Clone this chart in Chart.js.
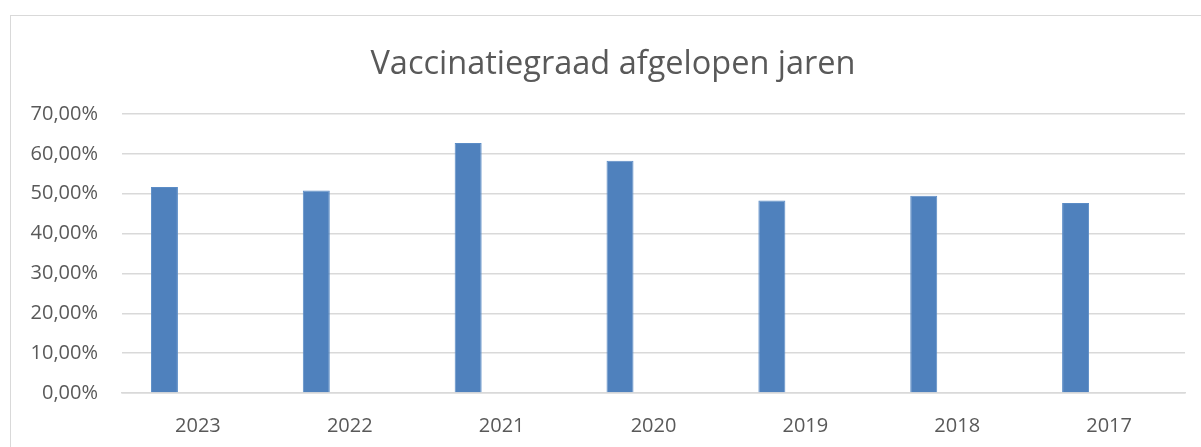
<!DOCTYPE html>
<html>
<head>
<meta charset="utf-8">
<script src="https://cdn.jsdelivr.net/npm/chart.js@4/dist/chart.umd.min.js"></script>
<style>
  html, body { margin: 0; padding: 0; background: #fff; }
  #wrap { position: relative; width: 1201px; height: 447px; overflow: hidden; }
  #frame { position: absolute; left: 10px; top: 15px; width: 1200px; height: 440px; border: 1px solid #d9d9d9; box-sizing: border-box; }
  canvas { position: absolute; left: 0; top: 0; }
</style>
</head>
<body>
<div id="wrap">
  <div id="frame"></div>
  <canvas id="graph" width="1201" height="447"></canvas>
</div>
<script>
const years = ["2023", "2022", "2021", "2020", "2019", "2018", "2017"];
const vaccinationRate = [0.517, 0.508, 0.627, 0.583, 0.483, 0.495, 0.477];
const emptySeries = [null, null, null, null, null, null, null];
const titleText = "Vaccinatiegraad afgelopen jaren";

const textColor = "#595959";
const gridColor = "#d9d9d9";

function percentLabel(v) {
    return (v * 100).toFixed(2).replace(".", ",") + "%";
}

// the original title sits a bit right of the canvas centre
const shiftTitle = {
    id: 'shiftTitle',
    afterLayout(chart) {
        const t = chart.titleBlock;
        if (t) { t.left += 20.5; t.right += 20.5; }
    }
};

const ctx = document.getElementById("graph").getContext("2d");

let chart = new Chart(ctx, {
    type: 'bar',
    data: {
        labels: years,
        datasets: [{
            label: 'Vaccinatiegraad',
            data: vaccinationRate,
            backgroundColor: '#4f81bd',
            borderColor: '#5b8cc6',
            borderWidth: 1,
            barPercentage: 0.403,
            categoryPercentage: 0.882
        },
        {
            label: '',
            data: emptySeries,
            backgroundColor: 'transparent',
            barPercentage: 0.403,
            categoryPercentage: 0.882
        }]
    },
    plugins: [shiftTitle],
    options: {
        responsive: false,
        animation: false,
        layout: { padding: { left: 0, right: 16, top: 0, bottom: 0 } },
        plugins: {
            legend: { display: false },
            tooltip: { enabled: false },
            title: {
                display: true,
                text: titleText,
                color: textColor,
                font: { family: "'Open Sans'", size: 32.5, weight: 'normal', lineHeight: 1.2 },
                padding: { top: 45, bottom: 30 }
            }
        },
        scales: {
            x: {
                grid: { display: false, drawTicks: false },
                border: { display: true, color: gridColor, width: 1.5 },
                ticks: {
                    color: textColor,
                    font: { family: "'Open Sans'", size: 20 },
                    padding: 21,
                    maxRotation: 0
                },
                afterFit: scale => { scale.height = 54; }
            },
            y: {
                min: 0,
                max: 0.7,
                border: { display: false },
                grid: { color: gridColor, lineWidth: 1.5, drawTicks: false },
                ticks: {
                    stepSize: 0.1,
                    color: textColor,
                    font: { family: "'Open Sans'", size: 20 },
                    padding: 24,
                    callback: v => percentLabel(v)
                },
                afterFit: scale => { scale.width = 122; }
            }
        }
    }
});
</script>
</body>
</html>
